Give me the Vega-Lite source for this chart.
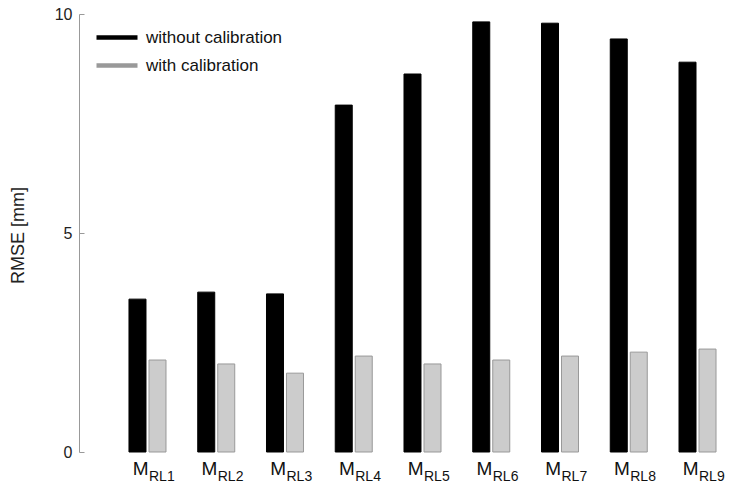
{
  "$schema": "https://vega.github.io/schema/vega-lite/v6.json",
  "width": 677,
  "height": 438,
  "autosize": "none",
  "padding": {"left": 79, "top": 14, "right": 0, "bottom": 33},
  "config": {"font": "Liberation Sans", "view": {"stroke": null}},
  "title": {"text": "Samples", "anchor": "start", "frame": "group", "dx": 119, "offset": 9, "fontSize": 18, "fontWeight": "normal", "color": "#222222", "baseline": "alphabetic"},
  "datasets": {
    "rmse": [
      {"sample": "RL1", "series": "without calibration", "rmse": 3.49},
      {"sample": "RL1", "series": "with calibration", "rmse": 2.10},
      {"sample": "RL2", "series": "without calibration", "rmse": 3.65},
      {"sample": "RL2", "series": "with calibration", "rmse": 2.01},
      {"sample": "RL3", "series": "without calibration", "rmse": 3.61},
      {"sample": "RL3", "series": "with calibration", "rmse": 1.80},
      {"sample": "RL4", "series": "without calibration", "rmse": 7.92},
      {"sample": "RL4", "series": "with calibration", "rmse": 2.19},
      {"sample": "RL5", "series": "without calibration", "rmse": 8.63},
      {"sample": "RL5", "series": "with calibration", "rmse": 2.01},
      {"sample": "RL6", "series": "without calibration", "rmse": 9.82},
      {"sample": "RL6", "series": "with calibration", "rmse": 2.10},
      {"sample": "RL7", "series": "without calibration", "rmse": 9.79},
      {"sample": "RL7", "series": "with calibration", "rmse": 2.19},
      {"sample": "RL8", "series": "without calibration", "rmse": 9.43},
      {"sample": "RL8", "series": "with calibration", "rmse": 2.28},
      {"sample": "RL9", "series": "without calibration", "rmse": 8.90},
      {"sample": "RL9", "series": "with calibration", "rmse": 2.35}
    ],
    "labels": [
      {"sample": "RL1"}, {"sample": "RL2"}, {"sample": "RL3"},
      {"sample": "RL4"}, {"sample": "RL5"}, {"sample": "RL6"},
      {"sample": "RL7"}, {"sample": "RL8"}, {"sample": "RL9"}
    ]
  },
  "layer": [
    {
      "data": {"name": "rmse"},
      "mark": {"type": "bar", "strokeWidth": 1},
      "encoding": {
        "x": {
          "field": "sample", "type": "nominal", "sort": null,
          "scale": {"range": [0, 687], "paddingInner": 0.4618, "paddingOuter": 0.727},
          "axis": {"labels": false, "title": null, "domainColor": "#999999", "tickColor": "#999999", "tickSize": -4}
        },
        "xOffset": {
          "field": "series", "type": "nominal", "sort": ["without calibration", "with calibration"],
          "scale": {"paddingInner": 0.15, "paddingOuter": 0}
        },
        "y": {
          "field": "rmse", "type": "quantitative",
          "scale": {"domain": [0, 10], "nice": false},
          "axis": {
            "values": [0, 5, 10], "title": "RMSE [mm]", "grid": false,
            "domainColor": "#999999", "tickColor": "#999999", "tickSize": -5,
            "labelPadding": 12, "labelFontSize": 16, "labelColor": "#222222", "labelFlush": false,
            "titleFontSize": 18, "titleFontWeight": "normal", "titleColor": "#222222",
            "titleX": -61, "titleY": 221, "titleAngle": -90, "titleBaseline": "middle", "titleAlign": "center"
          }
        },
        "color": {
          "field": "series", "type": "nominal",
          "scale": {"domain": ["without calibration", "with calibration"], "range": ["#000000", "#cccccc"]},
          "legend": {
            "orient": "none", "legendX": 15, "legendY": 9.5, "title": null, "padding": 0,
            "symbolType": "stroke", "symbolSize": 1681, "symbolStrokeWidth": 4.5, "clipHeight": 28,
            "labelFontSize": 17, "labelColor": "#111111", "labelOffset": 6, "rowPadding": 0
          }
        },
        "stroke": {
          "field": "series", "type": "nominal",
          "scale": {"domain": ["without calibration", "with calibration"], "range": ["#000000", "#999999"]},
          "legend": {
            "orient": "none", "legendX": 15, "legendY": 9.5, "title": null, "padding": 0,
            "symbolType": "stroke", "symbolSize": 1681, "symbolStrokeWidth": 4.5, "clipHeight": 28,
            "labelFontSize": 17, "labelColor": "#111111", "labelOffset": 6, "rowPadding": 0
          }
        }
      }
    },
    {
      "data": {"name": "labels"},
      "mark": {"type": "text", "text": "M", "align": "right", "baseline": "alphabetic", "dx": 1, "dy": 23, "fontSize": 19, "color": "#111111"},
      "encoding": {
        "x": {"field": "sample", "type": "nominal", "sort": null, "axis": null},
        "y": {"datum": 0, "type": "quantitative"}
      }
    },
    {
      "data": {"name": "labels"},
      "mark": {"type": "text", "align": "left", "baseline": "alphabetic", "dx": 1.5, "dy": 29, "fontSize": 14, "color": "#111111"},
      "encoding": {
        "x": {"field": "sample", "type": "nominal", "sort": null, "axis": null},
        "y": {"datum": 0, "type": "quantitative"},
        "text": {"field": "sample"}
      }
    }
  ]
}
